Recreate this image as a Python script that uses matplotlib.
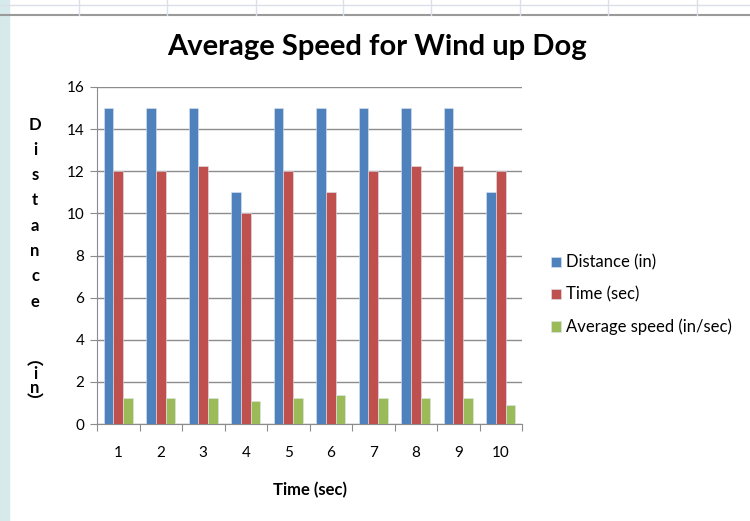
import matplotlib.pyplot as plt
import numpy as np
from matplotlib.lines import Line2D
from matplotlib.patches import Rectangle

# data
trials = [1, 2, 3, 4, 5, 6, 7, 8, 9, 10]
distance = [15, 15, 15, 11, 15, 15, 15, 15, 15, 11]
time_sec = [12, 12, 12.25, 10, 12, 11, 12, 12.25, 12.25, 12]
avg_speed = [1.25, 1.25, 1.22, 1.1, 1.25, 1.36, 1.25, 1.22, 1.22, 0.92]
series_names = ["Distance (in)", "Time (sec)", "Average speed (in/sec)"]
colors = ["#4F81BD", "#C0504D", "#9BBB59"]

plt.rcParams['font.family'] = ['Lato', 'DejaVu Sans']

fig = plt.figure(figsize=(7.5, 5.21), dpi=100)
W, H = 750, 521

#spreadsheet bits behind the chart
fig.patches.append(Rectangle((0, 0), 9 / W, 1, transform=fig.transFigure, color="#d6eaeb", zorder=0))
for yy, c, lw in [(5, "#dadfe8", 1), (15, "#9a9a9a", 1.5)]:
    fig.add_artist(Line2D([0, 1], [1 - yy / H, 1 - yy / H], color=c, lw=lw))
for xx in [79, 167, 256, 343, 431, 520, 608, 697]:
    fig.add_artist(Line2D([xx / W, xx / W], [1 - 15 / H, 1], color="#dadfe8", lw=1))

ax = fig.add_axes([97 / W, 1 - 424 / H, (522 - 97) / W, (424 - 87) / H])

x = np.arange(len(trials))
bw = 0.225
for i, vals in enumerate([distance, time_sec, avg_speed]):
    ax.bar(x + (i - 1) * bw, vals, bw, color=colors[i], edgecolor="#dce6f2", linewidth=0.4,
           label=series_names[i], zorder=3)

ax.set_xlim(-0.5, len(trials) - 0.5)
ax.set_ylim(0, 16)
ax.set_yticks(range(0, 17, 2))
ax.yaxis.grid(True, color="#8c8c8c", linewidth=1)
ax.set_axisbelow(True)

# ticks between categories, labels at centres
ax.set_xticks(np.arange(-0.5, len(trials), 1))
ax.set_xticklabels([])
ax.set_xticks(x, minor=True)
ax.set_xticklabels([str(t) for t in trials], minor=True)
ax.tick_params(axis="x", which="minor", length=0, pad=16, labelsize=11)
ax.tick_params(axis="x", which="major", length=5, color="#8c8c8c")
ax.tick_params(axis="y", length=5, color="#8c8c8c", labelsize=11, pad=4)

for s in ["top", "right"]:
    ax.spines[s].set_visible(False)
for s in ["left", "bottom"]:
    ax.spines[s].set_color("#8c8c8c")

fig.text(377 / W, 1 - 47 / H, "Average Speed for Wind up Dog", ha="center", va="center",
         fontsize=21, fontweight="bold")
fig.text(310 / W, 1 - 490 / H, "Time (sec)", ha="center", va="center",
         fontsize=12, fontweight="bold")

# stacked y label
ylab = [("D", 125), ("i", 150), ("s", 175), ("t", 200), ("a", 226), ("n", 251),
        ("c", 276), ("e", 302)]
for ch, yy in ylab:
    fig.text(35 / W, 1 - yy / H, ch, ha="center", va="center", fontsize=12, fontweight="bold")
fig.text(35 / W, 1 - 381 / H, "︵\ni\nn\n︶", ha="center", va="center", fontsize=12,
         fontweight="bold", linespacing=0.85, multialignment="center",
         family=["Lato", "Noto Sans CJK SC", "DejaVu Sans"])

ax.legend(loc="center left", bbox_to_anchor=(536 / W, 1 - 295 / H), bbox_transform=fig.transFigure,
          frameon=False, fontsize=12, handlelength=0.6, handleheight=0.6, handletextpad=0.3,
          labelspacing=0.95)

fig.savefig("out.png", dpi=100)
